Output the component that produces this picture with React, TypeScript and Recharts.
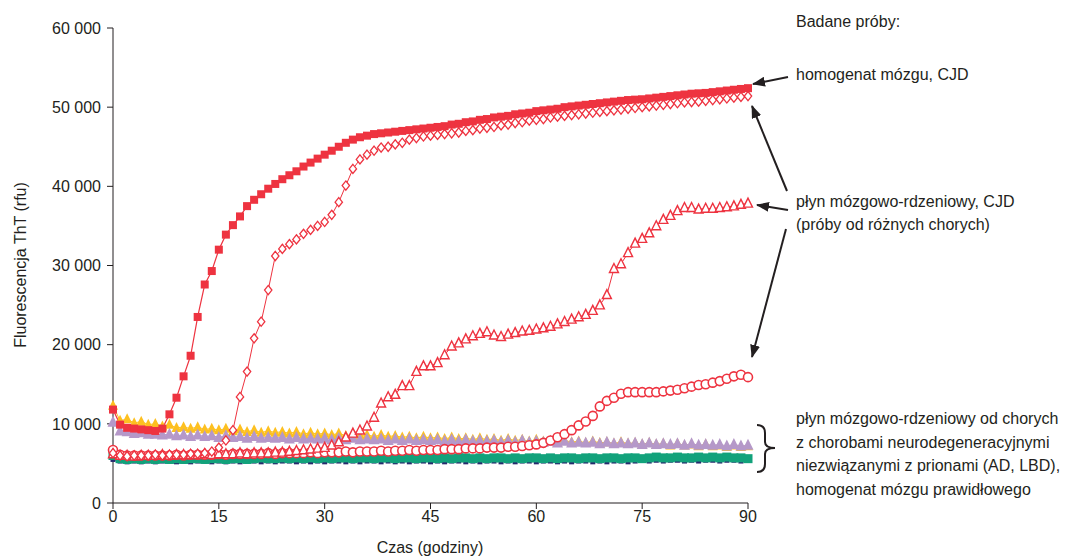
import { ComposedChart, Line, XAxis, YAxis } from 'recharts';

const HOURS = [
  0, 1, 2, 3, 4, 5, 6, 7, 8, 9, 10, 11, 12, 13, 14, 15, 16, 17, 18, 19, 20, 21, 22, 23, 24, 25, 26, 27, 28, 29,
  30, 31, 32, 33, 34, 35, 36, 37, 38, 39, 40, 41, 42, 43, 44, 45, 46, 47, 48, 49, 50, 51, 52, 53, 54, 55, 56, 57, 58, 59,
  60, 61, 62, 63, 64, 65, 66, 67, 68, 69, 70, 71, 72, 73, 74, 75, 76, 77, 78, 79, 80, 81, 82, 83, 84, 85, 86, 87, 88, 89,
  90,
];

// homogenat mózgu, CJD (filled squares)
const BRAIN_CJD = [
  11800, 9900, 9500, 9400, 9300, 9200, 9100, 9400, 11200, 13300,
  16000, 18600, 23500, 27600, 29300, 32000, 33900, 35100, 36200, 37500,
  38300, 39000, 39700, 40300, 40900, 41400, 41900, 42500, 43000, 43500,
  44000, 44500, 45000, 45500, 45900, 46200, 46400, 46600, 46700, 46800,
  46900, 47000, 47100, 47200, 47300, 47400, 47500, 47600, 47800, 47900,
  48100, 48200, 48400, 48500, 48700, 48800, 48900, 49100, 49200, 49300,
  49500, 49600, 49700, 49800, 50000, 50100, 50200, 50300, 50400, 50500,
  50600, 50700, 50800, 50900, 50950, 51000, 51100, 51200, 51300, 51400,
  51500, 51600, 51700, 51750, 51800, 51900, 52000, 52100, 52200, 52300,
  52400,
];

// płyn mózgowo-rdzeniowy, CJD – three patients (diamonds, triangles, circles)
const CSF_A = [
  6300, 6000, 5900, 6000, 6000, 6000, 6100, 6000, 6100, 6100,
  6100, 6200, 6200, 6300, 6500, 7000, 7900, 9200, 13400, 16600,
  20800, 22900, 26900, 31200, 32100, 32700, 33300, 34000, 34500, 35000,
  35500, 36400, 38000, 40100, 42200, 43400, 44000, 44500, 44900, 45000,
  45300, 45500, 45900, 46100, 46300, 46400, 46500, 46600, 46700, 46800,
  47000, 47100, 47300, 47400, 47500, 47700, 47800, 48000, 48100, 48300,
  48400, 48500, 48700, 48800, 48900, 49000, 49100, 49200, 49300, 49400,
  49500, 49600, 49700, 49800, 49900, 50000, 50100, 50200, 50300, 50400,
  50500, 50600, 50650, 50700, 50800, 50900, 51000, 51100, 51200, 51300,
  51400,
];

const CSF_B = [
  6200, 6000, 6000, 5900, 6000, 6000, 6000, 6100, 6000, 6100,
  6100, 6100, 6100, 6200, 6100, 6200, 6200, 6200, 6300, 6200,
  6300, 6300, 6300, 6400, 6400, 6500, 6600, 6700, 6800, 6900,
  7000, 7300, 7700, 8300, 8800, 9200, 9700, 10800, 12600, 13400,
  13700, 14800, 14800, 16600, 17300, 17300, 17700, 18700, 19800, 20200,
  20700, 21100, 21400, 21600, 21200, 21000, 21300, 21500, 21700, 21800,
  21950, 22100, 22300, 22600, 22900, 23200, 23500, 23800, 24300, 25000,
  26300, 29600, 30200, 31600, 32800, 33400, 34100, 35000, 35800, 36300,
  36900, 37300, 37300, 37100, 37200, 37200, 37300, 37400, 37500, 37700,
  37850,
];

const CSF_C = [
  6700, 6100, 6000, 6000, 6000, 6000, 6000, 6000, 6000, 6100,
  6000, 6100, 6100, 6100, 6100, 6200, 6100, 6200, 6200, 6200,
  6200, 6200, 6300, 6200, 6300, 6300, 6300, 6300, 6400, 6300,
  6400, 6400, 6400, 6500, 6400, 6500, 6500, 6500, 6600, 6500,
  6600, 6600, 6700, 6600, 6700, 6700, 6700, 6800, 6800, 6800,
  6900, 6900, 6900, 7000, 7000, 7000, 7100, 7100, 7200, 7300,
  7400, 7600, 7900, 8300, 8700, 9200, 9800, 10300, 11000, 12200,
  12900, 13300, 13800, 14000, 14000, 14000, 14000, 14000, 14100, 14200,
  14300, 14500, 14700, 14900, 15000, 15200, 15400, 15700, 16000, 16200,
  15900,
];

// controls: non-prion neurodegenerative CSF, normal brain homogenate
const CTRL_YELLOW = [
  12300, 10400, 10600, 10100, 10300, 9900, 10000, 9700, 9900, 9500,
  9600, 9400, 9600, 9300, 9400, 9200, 9400, 9100, 9300, 9000,
  9200, 8900, 9100, 8900, 9000, 8800, 9000, 8700, 8900, 8700,
  8800, 8600, 8800, 8500, 8700, 8500, 8600, 8400, 8600, 8400,
  8500, 8300, 8400, 8200, 8400, 8200, 8300, 8100, 8300, 8100,
  8200, 8000, 8200, 8000, 8100, 7900, 8100, 7900, 8000, 7800,
  8000, 7800, 7900, 7700, 7900, 7700, 7800, 7600, 7800, 7600,
  7700, 7500, 7700, 7500, 7600, 7400, 7600, 7400, 7500, 7300,
  7500, 7300, 7400, 7200, 7400, 7200, 7300, 7100, 7300, 7100,
  7200,
];

const CTRL_PURPLE = [
  10200, 9100, 9000, 8800, 8900, 8700, 8700, 8600, 8700, 8500,
  8600, 8400, 8600, 8400, 8500, 8300, 8500, 8300, 8400, 8200,
  8400, 8200, 8300, 8200, 8300, 8100, 8300, 8100, 8200, 8100,
  8200, 8000, 8200, 8000, 8200, 8000, 8100, 8000, 8100, 7900,
  8100, 7900, 8100, 7900, 8000, 7900, 8000, 7800, 8000, 7800,
  8000, 7800, 7900, 7800, 7900, 7700, 7900, 7700, 7900, 7700,
  7800, 7700, 7800, 7600, 7800, 7600, 7700, 7600, 7700, 7500,
  7700, 7500, 7600, 7500, 7600, 7400, 7600, 7400, 7500, 7400,
  7500, 7300, 7500, 7300, 7400, 7300, 7400, 7200, 7400, 7200,
  7300,
];

const CTRL_GREEN = [
  6000, 5600, 5500, 5600, 5500, 5600, 5500, 5600, 5500, 5600,
  5500, 5600, 5600, 5500, 5600, 5600, 5500, 5600, 5600, 5500,
  5600, 5700, 5600, 5600, 5700, 5600, 5700, 5600, 5700, 5600,
  5700, 5600, 5700, 5700, 5600, 5700, 5700, 5600, 5700, 5700,
  5600, 5700, 5700, 5600, 5700, 5700, 5600, 5700, 5600, 5700,
  5700, 5600, 5700, 5600, 5700, 5700, 5600, 5700, 5600, 5700,
  5700, 5600, 5700, 5600, 5700, 5700, 5600, 5700, 5700, 5600,
  5700, 5700, 5600, 5700, 5700, 5600, 5700, 5800, 5700, 5700,
  5800, 5700, 5700, 5800, 5700, 5800, 5700, 5800, 5700, 5700,
  5600,
];

const CTRL_NAVY = [
  5500, 5300, 5200, 5300, 5200, 5300, 5200, 5300, 5300, 5200,
  5300, 5200, 5300, 5300, 5200, 5300, 5200, 5300, 5200, 5300,
  5300, 5200, 5300, 5200, 5300, 5300, 5200, 5300, 5200, 5300,
  5200, 5300, 5300, 5200, 5300, 5200, 5300, 5300, 5200, 5300,
  5200, 5300, 5200, 5300, 5300, 5200, 5300, 5200, 5300, 5300,
  5200, 5300, 5200, 5300, 5300, 5200, 5300, 5200, 5300, 5300,
  5200, 5300, 5300, 5200, 5300, 5200, 5300, 5300, 5200, 5300,
  5200, 5300, 5300, 5200, 5300, 5400, 5300, 5400, 5300, 5400,
  5400, 5300, 5400, 5300, 5400, 5400, 5300, 5400, 5400, 5300,
  5400,
];

const X_TICKS = [0, 15, 30, 45, 60, 75, 90];
const Y_TICKS = [0, 10000, 20000, 30000, 40000, 50000, 60000];

const rows = HOURS.map((t, i) => ({
  t,
  brain: BRAIN_CJD[i],
  csfA: CSF_A[i],
  csfB: CSF_B[i],
  csfC: CSF_C[i],
  yellow: CTRL_YELLOW[i],
  purple: CTRL_PURPLE[i],
  green: CTRL_GREEN[i],
  navy: CTRL_NAVY[i],
}));

const RED = '#ee3340';
const YELLOW = '#fdc020';
const PURPLE = '#b598c9';
const GREEN = '#12a27b';
const NAVY = '#272a6e';
const INK = '#231f20';
const FONT = "'Liberation Sans', Arial, sans-serif";
const FS = 16;

type DotProps = { cx?: number; cy?: number; index?: number };

const squareDot = (fill: string, s: number) => (p: DotProps) => (
  <rect key={`sq${p.index}`} x={(p.cx ?? 0) - s / 2} y={(p.cy ?? 0) - s / 2} width={s} height={s} fill={fill} />
);

const triDot = (fill: string, stroke: string, s: number, sw: number) => (p: DotProps) => {
  const cx = p.cx ?? 0;
  const cy = p.cy ?? 0;
  return (
    <path
      key={`tr${p.index}`}
      d={`M${cx},${cy - s * 0.58}L${cx + s / 2},${cy + s * 0.42}L${cx - s / 2},${cy + s * 0.42}Z`}
      fill={fill}
      stroke={stroke}
      strokeWidth={sw}
    />
  );
};

const diamondDot = (s: number) => (p: DotProps) => {
  const cx = p.cx ?? 0;
  const cy = p.cy ?? 0;
  return (
    <path
      key={`dm${p.index}`}
      d={`M${cx},${cy - s}L${cx + s * 0.8},${cy}L${cx},${cy + s}L${cx - s * 0.8},${cy}Z`}
      fill="#fff"
      stroke={RED}
      strokeWidth={1.3}
    />
  );
};

const circleDot = (r: number) => (p: DotProps) => (
  <circle key={`ci${p.index}`} cx={p.cx} cy={p.cy} r={r} fill="#fff" stroke={RED} strokeWidth={1.6} />
);

const fmtY = (v: number) => (v === 0 ? '0' : `${v / 1000} 000`);

export default function App() {
  return (
    <div style={{ position: 'relative', width: 1072, height: 560, background: '#fff' }}>
      <style>{'body{margin:0}'}</style>
      <ComposedChart
        width={1072}
        height={560}
        data={rows}
        margin={{ top: 28, right: 324, bottom: 0, left: 0 }}
      >
        <XAxis
          dataKey="t"
          type="number"
          domain={[0, 90]}
          ticks={X_TICKS}
          height={57}
          stroke={INK}
          tickSize={6}
          tickMargin={2}
          tick={{ fill: INK, fontSize: FS, fontFamily: FONT }}
        />
        <YAxis
          domain={[0, 60000]}
          ticks={Y_TICKS}
          width={113}
          stroke={INK}
          tickSize={6}
          tickMargin={6}
          tickFormatter={fmtY}
          tick={{ fill: INK, fontSize: FS, fontFamily: FONT }}
        />
        <Line dataKey="navy" stroke={NAVY} strokeWidth={1} dot={squareDot(NAVY, 5)} activeDot={false} isAnimationActive={false} />
        <Line dataKey="green" stroke={GREEN} strokeWidth={1} dot={squareDot(GREEN, 9)} activeDot={false} isAnimationActive={false} />
        <Line dataKey="yellow" stroke={YELLOW} strokeWidth={1} dot={triDot(YELLOW, YELLOW, 10, 0)} activeDot={false} isAnimationActive={false} />
        <Line dataKey="purple" stroke={PURPLE} strokeWidth={1} dot={triDot(PURPLE, PURPLE, 11, 0)} activeDot={false} isAnimationActive={false} />
        <Line dataKey="csfC" stroke={RED} strokeWidth={1} dot={circleDot(4.5)} activeDot={false} isAnimationActive={false} />
        <Line dataKey="csfB" stroke={RED} strokeWidth={1} dot={triDot('#fff', RED, 9, 1.4)} activeDot={false} isAnimationActive={false} />
        <Line dataKey="csfA" stroke={RED} strokeWidth={1} dot={diamondDot(4.6)} activeDot={false} isAnimationActive={false} />
        <Line dataKey="brain" stroke={RED} strokeWidth={1.2} dot={squareDot(RED, 8)} activeDot={false} isAnimationActive={false} />
      </ComposedChart>

      <svg
        width={1072}
        height={560}
        style={{ position: 'absolute', left: 0, top: 0, pointerEvents: 'none' }}
        fontFamily={FONT}
        fontSize={FS}
        fill={INK}
      >
        <defs>
          <marker
            id="arrowHead"
            viewBox="0 0 13 10"
            refX={12}
            refY={5}
            markerWidth={13}
            markerHeight={10}
            markerUnits="userSpaceOnUse"
            orient="auto"
          >
            <path d="M0,0L13,5L0,10Z" fill={INK} />
          </marker>
        </defs>

        <text x={20} y={265} transform="rotate(-90 20 265)" textAnchor="middle" dominantBaseline="central">
          Fluorescencja ThT (rfu)
        </text>
        <text x={430} y={553} textAnchor="middle">
          Czas (godziny)
        </text>

        <text x={796} y={27}>Badane próby:</text>
        <text x={796} y={80}>homogenat mózgu, CJD</text>
        <text x={796} y={207}>płyn mózgowo-rdzeniowy, CJD</text>
        <text x={796} y={230}>(próby od różnych chorych)</text>
        <text x={796} y={424}>płyn mózgowo-rdzeniowy od chorych</text>
        <text x={796} y={447.5}>z chorobami neurodegeneracyjnymi</text>
        <text x={796} y={471}>niezwiązanymi z prionami (AD, LBD),</text>
        <text x={796} y={494.5}>homogenat mózgu prawidłowego</text>

        <g stroke={INK} strokeWidth={2} fill="none">
          <line x1={788} y1={77} x2={753} y2={84} markerEnd="url(#arrowHead)" />
          <line x1={787} y1={191} x2={752} y2={106} markerEnd="url(#arrowHead)" />
          <line x1={788} y1={210} x2={757} y2={205} markerEnd="url(#arrowHead)" />
          <line x1={786} y1={229} x2={752} y2={357} markerEnd="url(#arrowHead)" />
          <path d="M757,425Q765,425 765,433L765,442Q765,448 775,448Q765,448 765,454L765,464Q765,472 757,472" />
        </g>
      </svg>
    </div>
  );
}
